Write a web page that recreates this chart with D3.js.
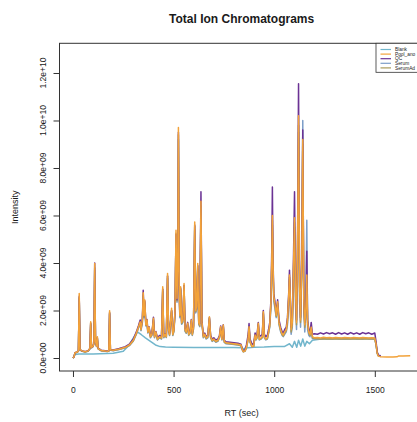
<!DOCTYPE html>
<html>
<head>
<meta charset="utf-8">
<script src="https://cdn.jsdelivr.net/npm/d3@7"></script>
<style>
  html, body { margin: 0; padding: 0; background: #fff; overflow: hidden; }
  svg { display: block; font-family: "Liberation Sans", Arial, sans-serif; }
</style>
</head>
<body>
<div id="chart"></div>
<script>
// ── data (intensity in units of 1e9) ──────────────────────────────────
const seriesNames = ['Blank', 'Pool_ano', 'QC', 'Serum', 'SerumAd'];
const seriesColors = ['#72b6cc', '#f2a23a', '#6b3294', '#7d9ec8', '#a99a5a'];

const rt = [
  0, 5, 10, 20, 27, 31, 35, 45, 60, 75,
  84, 88, 92, 100, 104, 108, 112, 117, 121, 125,
  140, 160, 170, 178, 182, 186, 200, 230, 260, 280,
  300, 315, 325, 334, 338, 345, 349, 353, 357, 362,
  368, 372, 378, 385, 392, 400, 405, 412, 420, 430,
  440, 446, 451, 458, 464, 470, 475, 480, 490, 496,
  502, 507, 512, 517, 521, 524, 528, 531, 535, 540,
  546, 552, 557, 563, 570, 575, 582, 588, 593, 599,
  605, 610, 615, 620, 625, 630, 636, 641, 648, 655,
  662, 670, 678, 684, 692, 700, 710, 720, 728, 734,
  740, 747, 752, 760, 780, 800, 820, 835, 842, 847,
  855, 862, 870, 875, 880, 890, 898, 905, 910, 915,
  921, 926, 935, 941, 946, 951, 958, 966, 972, 978,
  984, 988, 991, 994, 998, 1005, 1010, 1017, 1024, 1032,
  1040, 1045, 1052, 1060, 1066, 1072, 1076, 1080, 1084, 1090,
  1095, 1101, 1106, 1111, 1116, 1121, 1126, 1131, 1137, 1142,
  1147, 1152, 1157, 1162, 1166, 1172, 1178, 1184, 1190, 1200,
  1215, 1230, 1245, 1260, 1275, 1290, 1305, 1320, 1335, 1350,
  1365, 1380, 1395, 1410, 1425, 1440, 1455, 1470, 1485, 1500,
  1506, 1512, 1518, 1530, 1560, 1590, 1610, 1617, 1640, 1676
];

const pool = [
  0.00, 0.05, 0.22, 0.25, 0.30, 2.72, 0.35, 0.30, 0.26, 0.30,
  0.40, 1.53, 0.45, 0.50, 0.62, 3.98, 0.70, 0.50, 0.90, 0.40,
  0.32, 0.30, 0.28, 0.30, 1.99, 0.35, 0.33, 0.38, 0.45, 0.55,
  0.75, 1.05, 1.30, 1.53, 1.20, 1.60, 2.75, 1.80, 2.44, 1.40,
  1.60, 1.10, 1.30, 0.90, 1.00, 1.67, 0.90, 1.10, 0.80, 0.90,
  0.85, 3.00, 0.90, 1.00, 0.90, 3.56, 1.20, 1.00, 2.09, 1.00,
  1.20, 2.00, 5.38, 2.50, 4.00, 9.70, 3.00, 1.80, 3.00, 1.50,
  1.60, 3.14, 1.20, 1.10, 1.46, 1.00, 1.10, 1.60, 1.00, 1.30,
  5.73, 2.00, 2.20, 3.98, 1.50, 1.40, 6.60, 1.50, 0.90, 1.00,
  0.85, 0.90, 1.74, 0.90, 0.75, 0.80, 0.70, 0.75, 0.90, 1.32,
  0.80, 1.39, 0.70, 0.64, 0.62, 0.60, 0.58, 0.55, 0.35, 0.27,
  0.30, 0.45, 0.80, 1.32, 0.70, 0.48, 0.50, 0.97, 0.80, 0.90,
  1.46, 0.80, 0.85, 0.90, 1.95, 0.90, 0.80, 0.85, 1.10, 1.40,
  2.40, 4.20, 6.00, 4.00, 2.60, 2.20, 1.80, 2.37, 1.50, 1.20,
  1.00, 0.97, 1.10, 1.20, 1.60, 2.60, 3.50, 2.50, 1.20, 1.50,
  3.50, 5.90, 2.80, 1.50, 4.50, 10.20, 3.00, 1.60, 4.00, 9.20,
  2.50, 1.40, 2.00, 3.50, 1.50, 1.10, 1.00, 1.30, 0.90, 0.85,
  0.86, 0.84, 0.87, 0.85, 0.86, 0.84, 0.86, 0.85, 0.84, 0.86,
  0.85, 0.84, 0.86, 0.85, 0.84, 0.86, 0.85, 0.84, 0.85, 0.84,
  0.60, 0.20, 0.08, 0.05, 0.04, 0.04, 0.05, 0.08, 0.08, 0.09
];

const qc = [
  0.00, 0.05, 0.22, 0.26, 0.30, 2.60, 0.35, 0.30, 0.27, 0.31,
  0.40, 1.45, 0.45, 0.50, 0.65, 4.00, 0.72, 0.52, 0.85, 0.42,
  0.33, 0.31, 0.29, 0.31, 1.90, 0.36, 0.34, 0.40, 0.48, 0.58,
  0.80, 1.10, 1.35, 1.60, 1.25, 1.65, 2.85, 1.85, 2.40, 1.45,
  1.62, 1.15, 1.32, 0.95, 1.02, 1.72, 0.95, 1.12, 0.85, 0.95,
  0.90, 2.90, 0.95, 1.02, 0.95, 3.45, 1.25, 1.05, 2.00, 1.05,
  1.25, 1.95, 5.20, 2.45, 3.90, 9.50, 2.90, 1.85, 2.95, 1.55,
  1.65, 3.05, 1.25, 1.15, 1.50, 1.05, 1.15, 1.62, 1.05, 1.35,
  5.60, 2.05, 2.25, 3.90, 1.55, 1.45, 7.00, 1.55, 0.95, 1.05,
  0.90, 0.95, 1.70, 0.95, 0.80, 0.85, 0.75, 0.80, 0.95, 1.35,
  0.85, 1.40, 0.75, 0.68, 0.66, 0.64, 0.62, 0.58, 0.38, 0.30,
  0.35, 0.55, 0.95, 1.45, 0.80, 0.58, 0.60, 1.05, 0.90, 1.00,
  1.50, 0.90, 0.95, 1.00, 2.00, 1.00, 0.90, 0.95, 1.20, 1.50,
  2.50, 4.60, 7.20, 4.20, 2.70, 2.30, 1.90, 2.45, 1.60, 1.30,
  1.10, 1.05, 1.20, 1.30, 1.70, 2.70, 3.70, 2.60, 1.30, 1.60,
  3.70, 7.00, 3.00, 1.60, 4.80, 11.55, 3.20, 1.70, 4.20, 9.60,
  2.60, 1.50, 2.20, 4.50, 1.60, 1.20, 1.10, 1.50, 1.00, 1.02,
  1.00, 1.06, 1.01, 1.07, 1.02, 1.06, 1.00, 1.07, 1.01, 1.06,
  1.00, 1.07, 1.01, 1.06, 1.00, 1.07, 1.02, 1.06, 1.00, 1.05,
  0.70, 0.25, 0.12, 0.10, null, null, null, null, null, null
];

const serum = [
  0.00, 0.04, 0.20, 0.24, 0.28, 2.50, 0.33, 0.28, 0.25, 0.28,
  0.38, 1.40, 0.42, 0.48, 0.60, 3.70, 0.66, 0.48, 0.82, 0.38,
  0.30, 0.28, 0.27, 0.29, 1.85, 0.33, 0.31, 0.36, 0.43, 0.52,
  0.72, 1.00, 1.25, 1.45, 1.15, 1.50, 2.60, 1.70, 2.30, 1.35,
  1.50, 1.05, 1.22, 0.85, 0.95, 1.58, 0.85, 1.05, 0.76, 0.85,
  0.80, 2.80, 0.85, 0.95, 0.86, 3.35, 1.12, 0.95, 1.95, 0.95,
  1.12, 1.90, 5.10, 2.35, 3.80, 9.20, 2.85, 1.70, 2.85, 1.42,
  1.50, 2.95, 1.12, 1.04, 1.38, 0.95, 1.04, 1.50, 0.95, 1.22,
  5.40, 1.90, 2.05, 3.75, 1.42, 1.32, 6.20, 1.42, 0.85, 0.95,
  0.80, 0.85, 1.64, 0.85, 0.70, 0.76, 0.66, 0.70, 0.85, 1.24,
  0.76, 1.30, 0.66, 0.60, 0.59, 0.57, 0.55, 0.52, 0.33, 0.26,
  0.29, 0.42, 0.75, 1.24, 0.66, 0.46, 0.48, 0.92, 0.76, 0.85,
  1.38, 0.76, 0.80, 0.85, 1.85, 0.85, 0.76, 0.80, 1.04, 1.30,
  2.20, 3.90, 5.60, 3.70, 2.40, 2.00, 1.70, 2.20, 1.40, 1.10,
  0.95, 0.90, 1.00, 1.10, 1.40, 2.40, 3.30, 2.20, 1.00, 1.30,
  3.20, 5.50, 2.20, 1.20, 4.20, 9.50, 2.40, 1.30, 3.80, 10.00,
  2.00, 1.10, 1.80, 5.80, 1.20, 0.95, 0.90, 1.10, 0.82, 0.80,
  0.81, 0.80, 0.82, 0.80, 0.81, 0.80, 0.82, 0.80, 0.81, 0.80,
  0.81, 0.80, 0.82, 0.80, 0.81, 0.80, 0.82, 0.80, 0.81, 0.80,
  0.60, 0.22, 0.10, 0.07, null, null, null, null, null, null
];

const serumAd = [
  0.00, 0.04, 0.21, 0.24, 0.29, 2.55, 0.34, 0.29, 0.25, 0.29,
  0.39, 1.48, 0.43, 0.49, 0.61, 3.80, 0.68, 0.49, 0.86, 0.39,
  0.31, 0.29, 0.27, 0.29, 1.92, 0.34, 0.32, 0.37, 0.44, 0.53,
  0.73, 1.02, 1.27, 1.50, 1.18, 1.55, 2.65, 1.75, 2.35, 1.38,
  1.55, 1.08, 1.25, 0.88, 0.97, 1.62, 0.88, 1.07, 0.78, 0.88,
  0.82, 2.90, 0.88, 0.97, 0.88, 3.45, 1.15, 0.97, 2.00, 0.97,
  1.15, 1.95, 5.25, 2.40, 3.90, 9.40, 2.90, 1.75, 2.90, 1.45,
  1.55, 3.05, 1.15, 1.06, 1.42, 0.97, 1.06, 1.55, 0.97, 1.25,
  5.55, 1.95, 2.10, 3.85, 1.45, 1.35, 6.40, 1.45, 0.88, 0.97,
  0.82, 0.88, 1.70, 0.88, 0.72, 0.78, 0.68, 0.72, 0.88, 1.28,
  0.78, 1.35, 0.68, 0.62, 0.60, 0.58, 0.56, 0.53, 0.34, 0.26,
  0.29, 0.44, 0.78, 1.28, 0.68, 0.47, 0.49, 0.95, 0.78, 0.88,
  1.42, 0.78, 0.82, 0.88, 1.90, 0.88, 0.78, 0.82, 1.07, 1.35,
  2.30, 4.00, 5.80, 3.85, 2.50, 2.10, 1.75, 2.30, 1.45, 1.15,
  0.97, 0.93, 1.05, 1.15, 1.50, 2.50, 3.40, 2.40, 1.10, 1.40,
  3.30, 5.70, 2.60, 1.40, 4.30, 9.80, 2.80, 1.50, 3.90, 9.00,
  2.30, 1.30, 1.90, 3.30, 1.40, 1.05, 0.95, 1.25, 0.85, 0.82,
  0.81, 0.80, 0.81, 0.80, 0.81, 0.80, 0.81, 0.80, 0.81, 0.80,
  0.81, 0.80, 0.81, 0.80, 0.81, 0.80, 0.81, 0.80, 0.81, 0.80,
  0.58, 0.21, 0.09, 0.06, null, null, null, null, null, null
];

const blankRt = [
  0, 10, 30, 100, 200, 250, 280, 300, 320, 340,
  360, 385, 410, 433, 460, 500, 600, 700, 800, 840,
  847, 855, 900, 950, 1000, 1050, 1076, 1090, 1101, 1112,
  1121, 1132, 1142, 1152, 1162, 1175, 1190, 1250, 1350, 1450,
  1500, 1506, 1512, 1520
];
const blank = [
  0.00, 0.15, 0.17, 0.17, 0.20, 0.28, 0.55, 0.85, 1.10, 0.98,
  0.85, 0.70, 0.55, 0.48, 0.46, 0.45, 0.44, 0.44, 0.44, 0.43,
  0.38, 0.42, 0.45, 0.46, 0.48, 0.48, 0.60, 0.45, 0.70, 0.45,
  0.75, 0.50, 0.80, 0.50, 0.70, 0.60, 0.75, 0.82, 0.83, 0.83,
  0.83, 0.55, 0.18, 0.08
];

const xTicks = [0, 500, 1000, 1500];
const yTicks = [0, 2, 4, 6, 8, 10, 12];
const yTickLabels = ['0.0e+00', '2.0e+09', '4.0e+09', '6.0e+09', '8.0e+09', '1.0e+10', '1.2e+10'];

// ── layout ────────────────────────────────────────────────────────────
const width = 417;
const height = 422;
const plot = { left: 59.5, right: 423.7, top: 43.3, bottom: 371 };
const font = '"Liberation Sans", Arial, sans-serif';

const svg = d3.select('#chart')
  .append('svg')
  .attr('width', width)
  .attr('height', height);

const x = d3.scaleLinear().domain([-67, 1743]).range([plot.left, plot.right]);
const y = d3.scaleLinear().domain([-0.547, 13.25]).range([plot.bottom, plot.top]);

svg.append('clipPath').attr('id', 'plot-clip')
  .append('rect')
  .attr('x', plot.left).attr('y', plot.top)
  .attr('width', plot.right - plot.left).attr('height', plot.bottom - plot.top);

// series in drawing order (later ones on top)
const traces = [
  { name: 'Blank', xs: blankRt, ys: blank },
  { name: 'Serum', xs: rt, ys: serum },
  { name: 'SerumAd', xs: rt, ys: serumAd },
  { name: 'QC', xs: rt, ys: qc },
  { name: 'Pool_ano', xs: rt, ys: pool }
];
const color = d3.scaleOrdinal().domain(seriesNames).range(seriesColors);

const line = d3.line()
  .defined(d => d[1] !== null)
  .x(d => x(d[0]))
  .y(d => y(d[1]));

const lines = svg.append('g').attr('clip-path', 'url(#plot-clip)');
traces.forEach(t => {
  const pts = t.xs.map((v, i) => [v, t.ys[i]]);
  lines.append('path')
    .datum(pts)
    .attr('fill', 'none')
    .attr('stroke', color(t.name))
    .attr('stroke-width', 1.5)
    .attr('stroke-linejoin', 'round')
    .attr('d', line);
});

// box
svg.append('rect')
  .attr('x', plot.left).attr('y', plot.top)
  .attr('width', plot.right - plot.left).attr('height', plot.bottom - plot.top)
  .attr('fill', 'none')
  .attr('stroke', '#333')
  .attr('stroke-width', 1);

// x axis
const xAxis = svg.append('g')
  .attr('transform', `translate(0,${plot.bottom})`)
  .call(d3.axisBottom(x).tickValues(xTicks).tickSize(6).tickSizeOuter(0)
    .tickPadding(10).tickFormat(d3.format('d')));
xAxis.select('.domain').remove();
xAxis.selectAll('line').attr('stroke', '#333');
xAxis.selectAll('text')
  .attr('fill', '#1a1a1a')
  .attr('font-size', '8.5px')
  .attr('font-family', font);

// y axis: ticks from d3, labels rotated like R (las = 0)
const yAxis = svg.append('g')
  .attr('transform', `translate(${plot.left},0)`)
  .call(d3.axisLeft(y).tickValues(yTicks).tickSize(6).tickSizeOuter(0));
yAxis.select('.domain').remove();
yAxis.selectAll('text').remove();
yAxis.selectAll('line').attr('stroke', '#333');

svg.append('g')
  .selectAll('text')
  .data(yTicks)
  .join('text')
  .attr('transform', (d) => `translate(45.5,${y(d)}) rotate(-90)`)
  .attr('text-anchor', 'middle')
  .attr('font-size', '8.5px')
  .attr('font-family', font)
  .attr('fill', '#1a1a1a')
  .text((d, i) => yTickLabels[i]);

// titles
svg.append('text')
  .attr('x', (plot.left + plot.right) / 2).attr('y', 23)
  .attr('text-anchor', 'middle')
  .attr('font-size', '12px')
  .attr('font-weight', 'bold')
  .attr('fill', '#1a1a1a')
  .text('Total Ion Chromatograms');

svg.append('text')
  .attr('x', (plot.left + plot.right) / 2).attr('y', 416)
  .attr('text-anchor', 'middle')
  .attr('font-size', '9px')
  .attr('fill', '#1a1a1a')
  .text('RT (sec)');

svg.append('text')
  .attr('transform', `translate(18,${(plot.top + plot.bottom) / 2}) rotate(-90)`)
  .attr('text-anchor', 'middle')
  .attr('font-size', '9px')
  .attr('fill', '#1a1a1a')
  .text('Intensity');

// legend (top right, partly outside the window like the original)
const leg = svg.append('g');
leg.append('rect')
  .attr('x', 376).attr('y', plot.top)
  .attr('width', plot.right - 376).attr('height', 29)
  .attr('fill', '#fff')
  .attr('stroke', '#333')
  .attr('stroke-width', 0.8);
seriesNames.forEach((name, i) => {
  const ly = 49.5 + i * 4.6;
  leg.append('line')
    .attr('x1', 380.5).attr('x2', 391)
    .attr('y1', ly).attr('y2', ly)
    .attr('stroke', color(name))
    .attr('stroke-width', 1.2);
  leg.append('text')
    .attr('x', 395).attr('y', ly + 1.7)
    .attr('font-size', '4.8px')
    .attr('font-family', font)
    .attr('fill', '#222')
    .text(name);
});
</script>
</body>
</html>
